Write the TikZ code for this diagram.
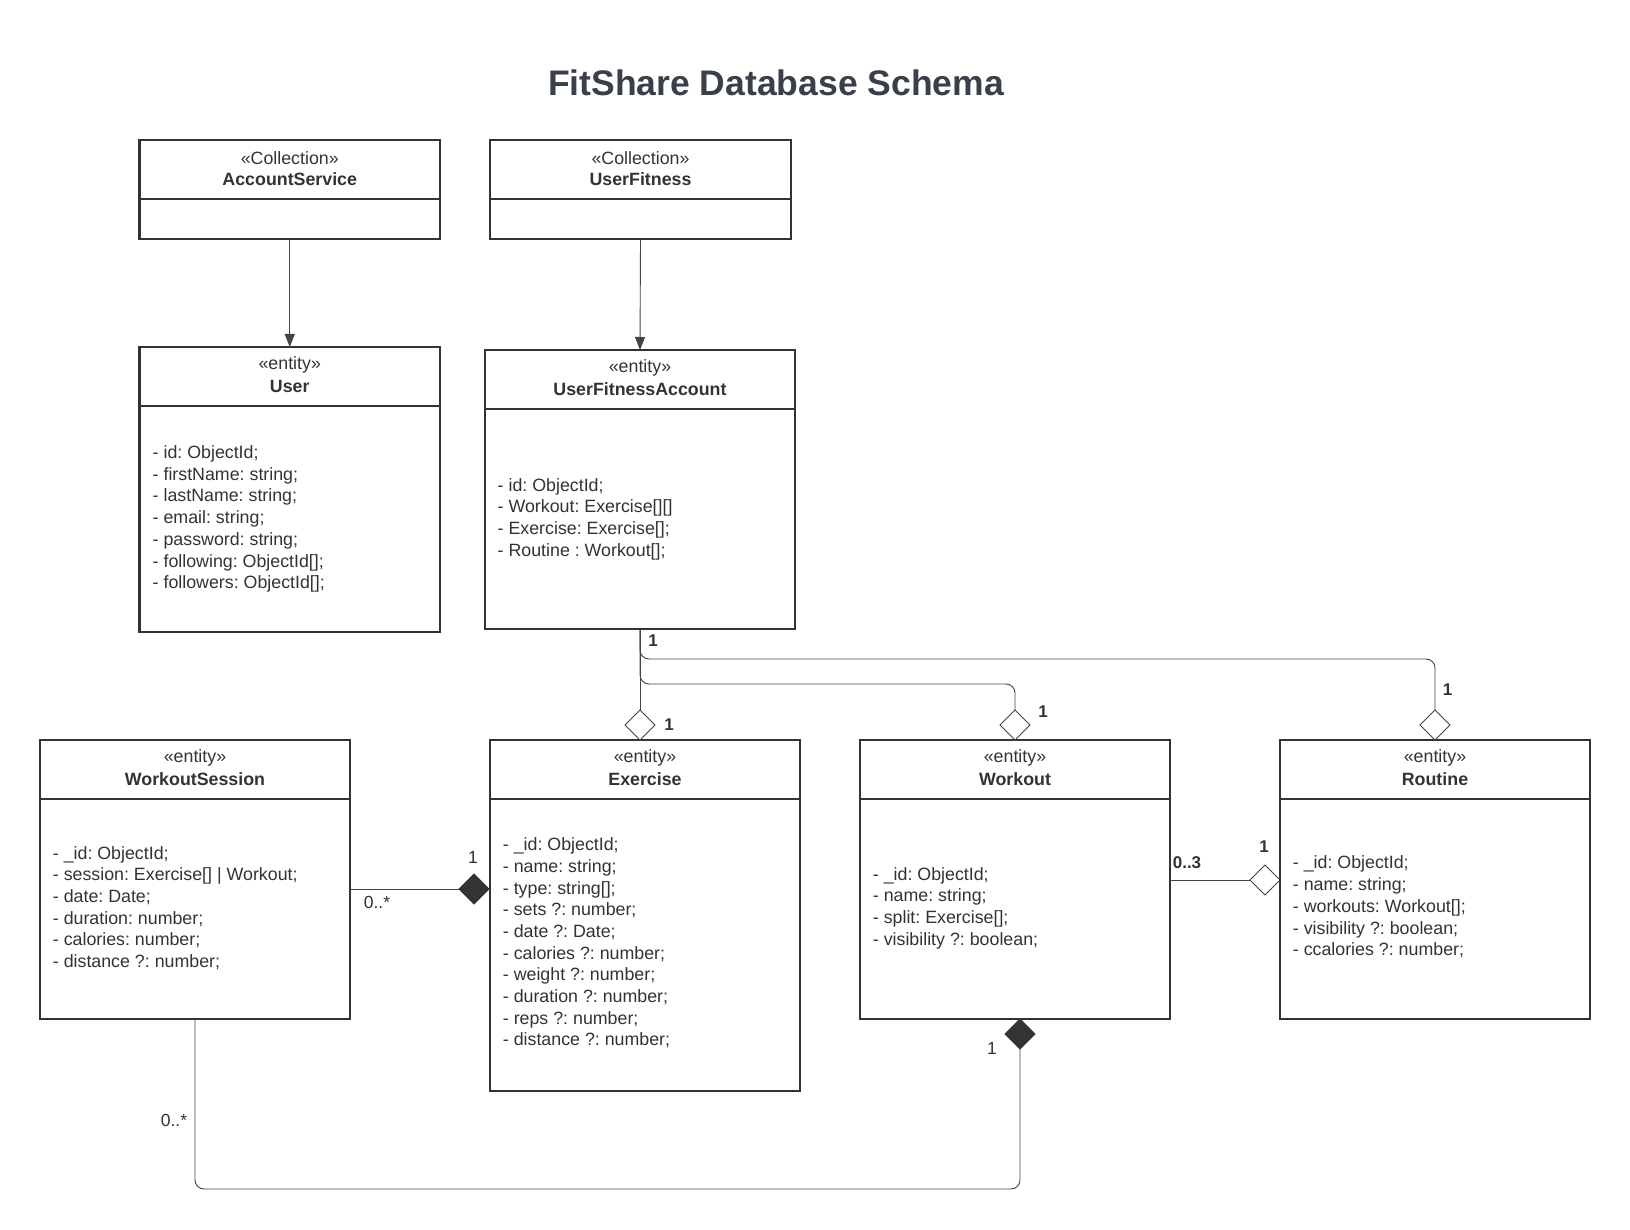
\documentclass[tikz,border=0pt]{standalone}
\usepackage{fontspec}
\setmainfont{Liberation Sans}
\usetikzlibrary{arrows.meta,shapes.geometric}
\definecolor{ink}{HTML}{333333}
\definecolor{wire}{HTML}{444444}
\definecolor{titlec}{HTML}{394049}
\frenchspacing
\begin{document}
\begin{tikzpicture}[x=1pt,y=-1pt,
  box/.style={draw=ink, line width=2.4pt, fill=white, inner sep=0pt, outer sep=0pt, anchor=north west},
  divline/.style={draw=ink, line width=2.4pt},
  conn/.style={draw=wire, line width=0.9pt},
  stereo/.style={font=\fontsize{17.8}{20}\selectfont, text=ink, inner sep=0pt},
  cname/.style={font=\bfseries\fontsize{17.8}{20}\selectfont, text=ink, inner sep=0pt},
  body/.style={font=\fontsize{17.8}{21.7}\selectfont, text=ink, align=left, anchor=west, inner sep=0pt},
  odiam/.style={diamond, draw=wire, fill=white, line width=0.9pt, minimum width=30pt, minimum height=30pt, inner sep=0pt, outer sep=0pt},
  fdiam/.style={odiam, fill=ink, draw=ink},
  mult/.style={font=\fontsize{17.5}{20}\selectfont, text=ink, inner sep=0pt},
  multb/.style={font=\bfseries\fontsize{17}{20}\selectfont, text=ink, inner sep=0pt},
  tip/.style={-{Triangle[width=10pt,length=13pt]}}
]
\useasboundingbox (0,0) rectangle (1630,1230);
\fill[white] (0,0) rectangle (1630,1230);

% title
\node[font=\bfseries\fontsize{35.5}{40}\selectfont, text=titlec] (title) at (776,83) {FitShare Database Schema};

% boxes
\node[box, minimum width=300.5pt, minimum height=99pt] (acc) at (139.5,140) {};
\node[box, minimum width=301pt, minimum height=99pt] (uf) at (490,140) {};
\node[box, minimum width=300.5pt, minimum height=285pt] (user) at (139.5,347) {};
\node[box, minimum width=310pt, minimum height=279pt] (ufa) at (485,350) {};
\node[box, minimum width=310pt, minimum height=279pt] (ws) at (40,740) {};
\node[box, minimum width=310pt, minimum height=351pt] (ex) at (490,740) {};
\node[box, minimum width=310pt, minimum height=279pt] (wo) at (860,740) {};
\node[box, minimum width=310pt, minimum height=279pt] (ro) at (1280,740) {};

% dividers
\foreach \b in {acc,uf,user,ufa,ws,ex,wo,ro}
  \draw[divline] ([yshift=-59pt]\b.north west) -- ([yshift=-59pt]\b.north east);

% headers
\node[stereo] (accS) at ([yshift=-18pt]acc.north) {«Collection»};
\node[cname]  (accN) at ([yshift=-39pt]acc.north) {AccountService};
\node[stereo] (ufS) at ([yshift=-18pt]uf.north) {«Collection»};
\node[cname]  (ufN) at ([yshift=-39pt]uf.north) {UserFitness};
\node[stereo] (userS) at ([yshift=-18pt]user.north) {«entity»};
\node[cname]  (userN) at ([yshift=-39pt]user.north) {User};
\node[stereo] (ufaS) at ([yshift=-18pt]ufa.north) {«entity»};
\node[cname]  (ufaN) at ([yshift=-39pt]ufa.north) {UserFitnessAccount};
\node[stereo] (wsS) at ([yshift=-18pt]ws.north) {«entity»};
\node[cname]  (wsN) at ([yshift=-39pt]ws.north) {WorkoutSession};
\node[stereo] (exS) at ([yshift=-18pt]ex.north) {«entity»};
\node[cname]  (exN) at ([yshift=-39pt]ex.north) {Exercise};
\node[stereo] (woS) at ([yshift=-18pt]wo.north) {«entity»};
\node[cname]  (woN) at ([yshift=-39pt]wo.north) {Workout};
\node[stereo] (roS) at ([yshift=-18pt]ro.north) {«entity»};
\node[cname]  (roN) at ([yshift=-39pt]ro.north) {Routine};

% bodies
\node[body] (userB) at (152.5,519) {- id: ObjectId;\\- firstName: string;\\- lastName: string;\\- email: string;\\- password: string;\\- following: ObjectId[];\\- followers: ObjectId[];};
\node[body] (ufaB) at (497.5,519) {- id: ObjectId;\\- Workout: Exercise[][]\\- Exercise: Exercise[];\\- Routine : Workout[];};
\node[body] (wsB) at (52.7,908) {- \_id: ObjectId;\\- session: Exercise[] | Workout;\\- date: Date;\\- duration: number;\\- calories: number;\\- distance ?: number;};
\node[body] (exB) at (502.7,943) {- \_id: ObjectId;\\- name: string;\\- type: string[];\\- sets ?: number;\\- date ?: Date;\\- calories ?: number;\\- weight ?: number;\\- duration ?: number;\\- reps ?: number;\\- distance ?: number;};
\node[body] (woB) at (872.7,908) {- \_id: ObjectId;\\- name: string;\\- split: Exercise[];\\- visibility ?: boolean;};
\node[body] (roB) at (1292.7,907) {- \_id: ObjectId;\\- name: string;\\- workouts: Workout[];\\- visibility ?: boolean;\\- ccalories ?: number;};

% diamonds
\node[odiam] (dEx) at (640,725) {};
\node[odiam] (dWo) at (1015,725) {};
\node[odiam] (dRo) at (1435,725) {};
\node[fdiam] (dWS) at (474,889) {};
\node[odiam] (dRw) at (1265,880) {};
\node[fdiam] (dWoB) at (1020,1034) {};
\coordinate (bottomrow) at (0,1189);

% connectors
\draw[conn, tip] (acc.south) -- (user.north);
\draw[conn, tip] (uf.south) -- (ufa.north);
\draw[conn] (ufa.south) -- (dEx.north);
\draw[conn, rounded corners=9pt] (ufa.south) |- (dWo.north |- 0,684) -- (dWo.north);
\draw[conn, rounded corners=9pt] (ufa.south) |- (dRo.north |- 0,659) -- (dRo.north);
\draw[conn] (ws.east |- dWS.west) -- (dWS.west);
\draw[conn] (wo.east |- dRw.west) -- (dRw.west);
\draw[conn, rounded corners=9pt] (ws.south) |- (bottomrow -| dWoB.south) -- (dWoB.south);

% multiplicities
\node[multb] (m1) at (653,641) {1};
\node[multb] (m2) at (669,725) {1};
\node[multb] (m3) at (1043,712) {1};
\node[multb] (m4) at (1447.5,690) {1};
\node[mult]  (m5) at (473,857) {1};
\node[mult]  (m6) at (377,902) {0..*};
\node[multb] (m7) at (1187,863) {0..3};
\node[multb] (m8) at (1264,847) {1};
\node[mult]  (m9) at (174,1120) {0..*};
\node[mult]  (m10) at (992,1048) {1};
\end{tikzpicture}
\end{document}
